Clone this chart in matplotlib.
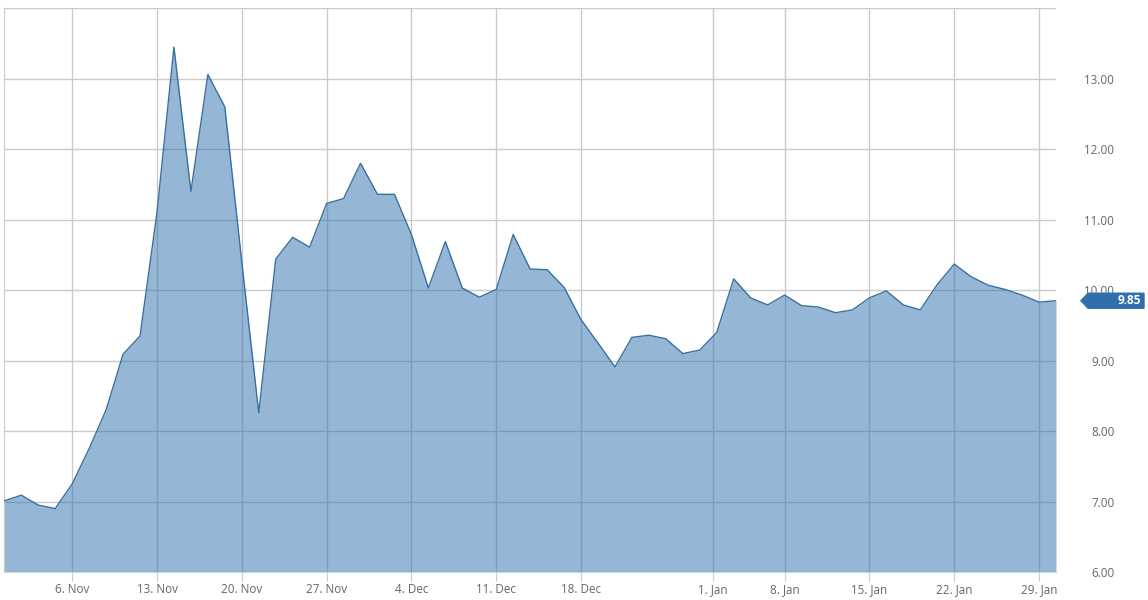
import matplotlib
matplotlib.use('Agg')
import matplotlib.pyplot as plt
from matplotlib.patches import Polygon
import pandas as pd
import numpy as np

# trading days shown on the chart (weekdays, market holidays removed)
holidays = ['2017-12-25', '2017-12-26', '2018-01-01']
dates = pd.bdate_range('2017-10-31', '2018-01-30').drop(pd.to_datetime(holidays))

values = [7.01, 7.09, 6.95, 6.90, 7.25, 7.75, 8.30, 9.09, 9.35, 11.10,
          13.45, 11.40, 13.06, 12.60, 10.40, 8.26, 10.44, 10.75, 10.61, 11.23,
          11.30, 11.80, 11.36, 11.36, 10.79, 10.03, 10.69, 10.03, 9.90, 10.01,
          10.79, 10.30, 10.29, 10.04, 9.58, 9.25, 8.91, 9.33, 9.36, 9.31,
          9.10, 9.15, 9.40, 10.16, 9.89, 9.79, 9.93, 9.78, 9.76, 9.68,
          9.72, 9.89, 9.99, 9.79, 9.72, 10.08, 10.37, 10.19, 10.07, 10.01,
          9.93, 9.83, 9.85]

tick_dates = pd.to_datetime(['2017-11-06', '2017-11-13', '2017-11-20', '2017-11-27',
                             '2017-12-04', '2017-12-11', '2017-12-18', '2018-01-01',
                             '2018-01-08', '2018-01-15', '2018-01-22', '2018-01-29'])
y_ticks = [6, 7, 8, 9, 10, 11, 12, 13]

plt.rcParams['font.family'] = ['Open Sans', 'DejaVu Sans']

W, H = 1148, 600
fig = plt.figure(figsize=(W / 100, H / 100), dpi=100)
ax = fig.add_axes([4.3 / W, 28 / H, (1056 - 4.3) / W, (572 - 8.3) / H])

# ordinal x axis: points placed by index, ticks interpolated between trading days
idx = np.arange(len(values))
tick_pos = np.interp(tick_dates.asi8, dates.asi8, idx)
tick_labels = [f'{d.day}. {d.strftime("%b")}' for d in tick_dates]

series_color = '#2e6fac'
ax.fill_between(idx, values, 6, color=series_color, alpha=0.5, lw=0, zorder=2)
ax.plot(idx, values, color='#3a6f9f', lw=1, zorder=3)

ax.set_xlim(0, len(values) - 1)
ax.set_ylim(6, 14)
ax.set_xticks(tick_pos)
ax.set_xticklabels(tick_labels)
ax.set_yticks(y_ticks)
ax.set_yticklabels([f'{v:.2f}' for v in y_ticks])

ax.grid(True, color='#cacaca', lw=1, zorder=1)
ax.set_axisbelow(True)
ax.axhline(14, color='#cacaca', lw=1, zorder=1)

ax.yaxis.tick_right()
ax.tick_params(axis='y', length=0, pad=42, labelsize=8.4, labelcolor='#666666')
for lab in ax.get_yticklabels():
    lab.set_horizontalalignment('right')
ax.tick_params(axis='x', length=6.2, width=0.8, color='#cacaca', pad=2,
               labelsize=8.4, labelcolor='#666666')

for side in ['top', 'right']:
    ax.spines[side].set_visible(False)
ax.spines['left'].set_color('#cacaca')
ax.spines['bottom'].set_color('#ccd6eb')

# last value tag on the right
last = values[-1]
y_frac = fig.transFigure.inverted().transform(ax.transData.transform((0, last)))[1]
hh = 7.5 / H
tag = Polygon([(1081 / W, y_frac), (1088 / W, y_frac + hh), (1144 / W, y_frac + hh),
               (1144 / W, y_frac - hh), (1088 / W, y_frac - hh)],
              closed=True, transform=fig.transFigure, color=series_color, zorder=5)
fig.patches.append(tag)
fig.text(1141 / W, y_frac, f'{last:.2f}', ha='right', va='center', color='white',
         fontsize=8.6, fontweight='bold', zorder=6)

fig.savefig('out.png', dpi=100)
